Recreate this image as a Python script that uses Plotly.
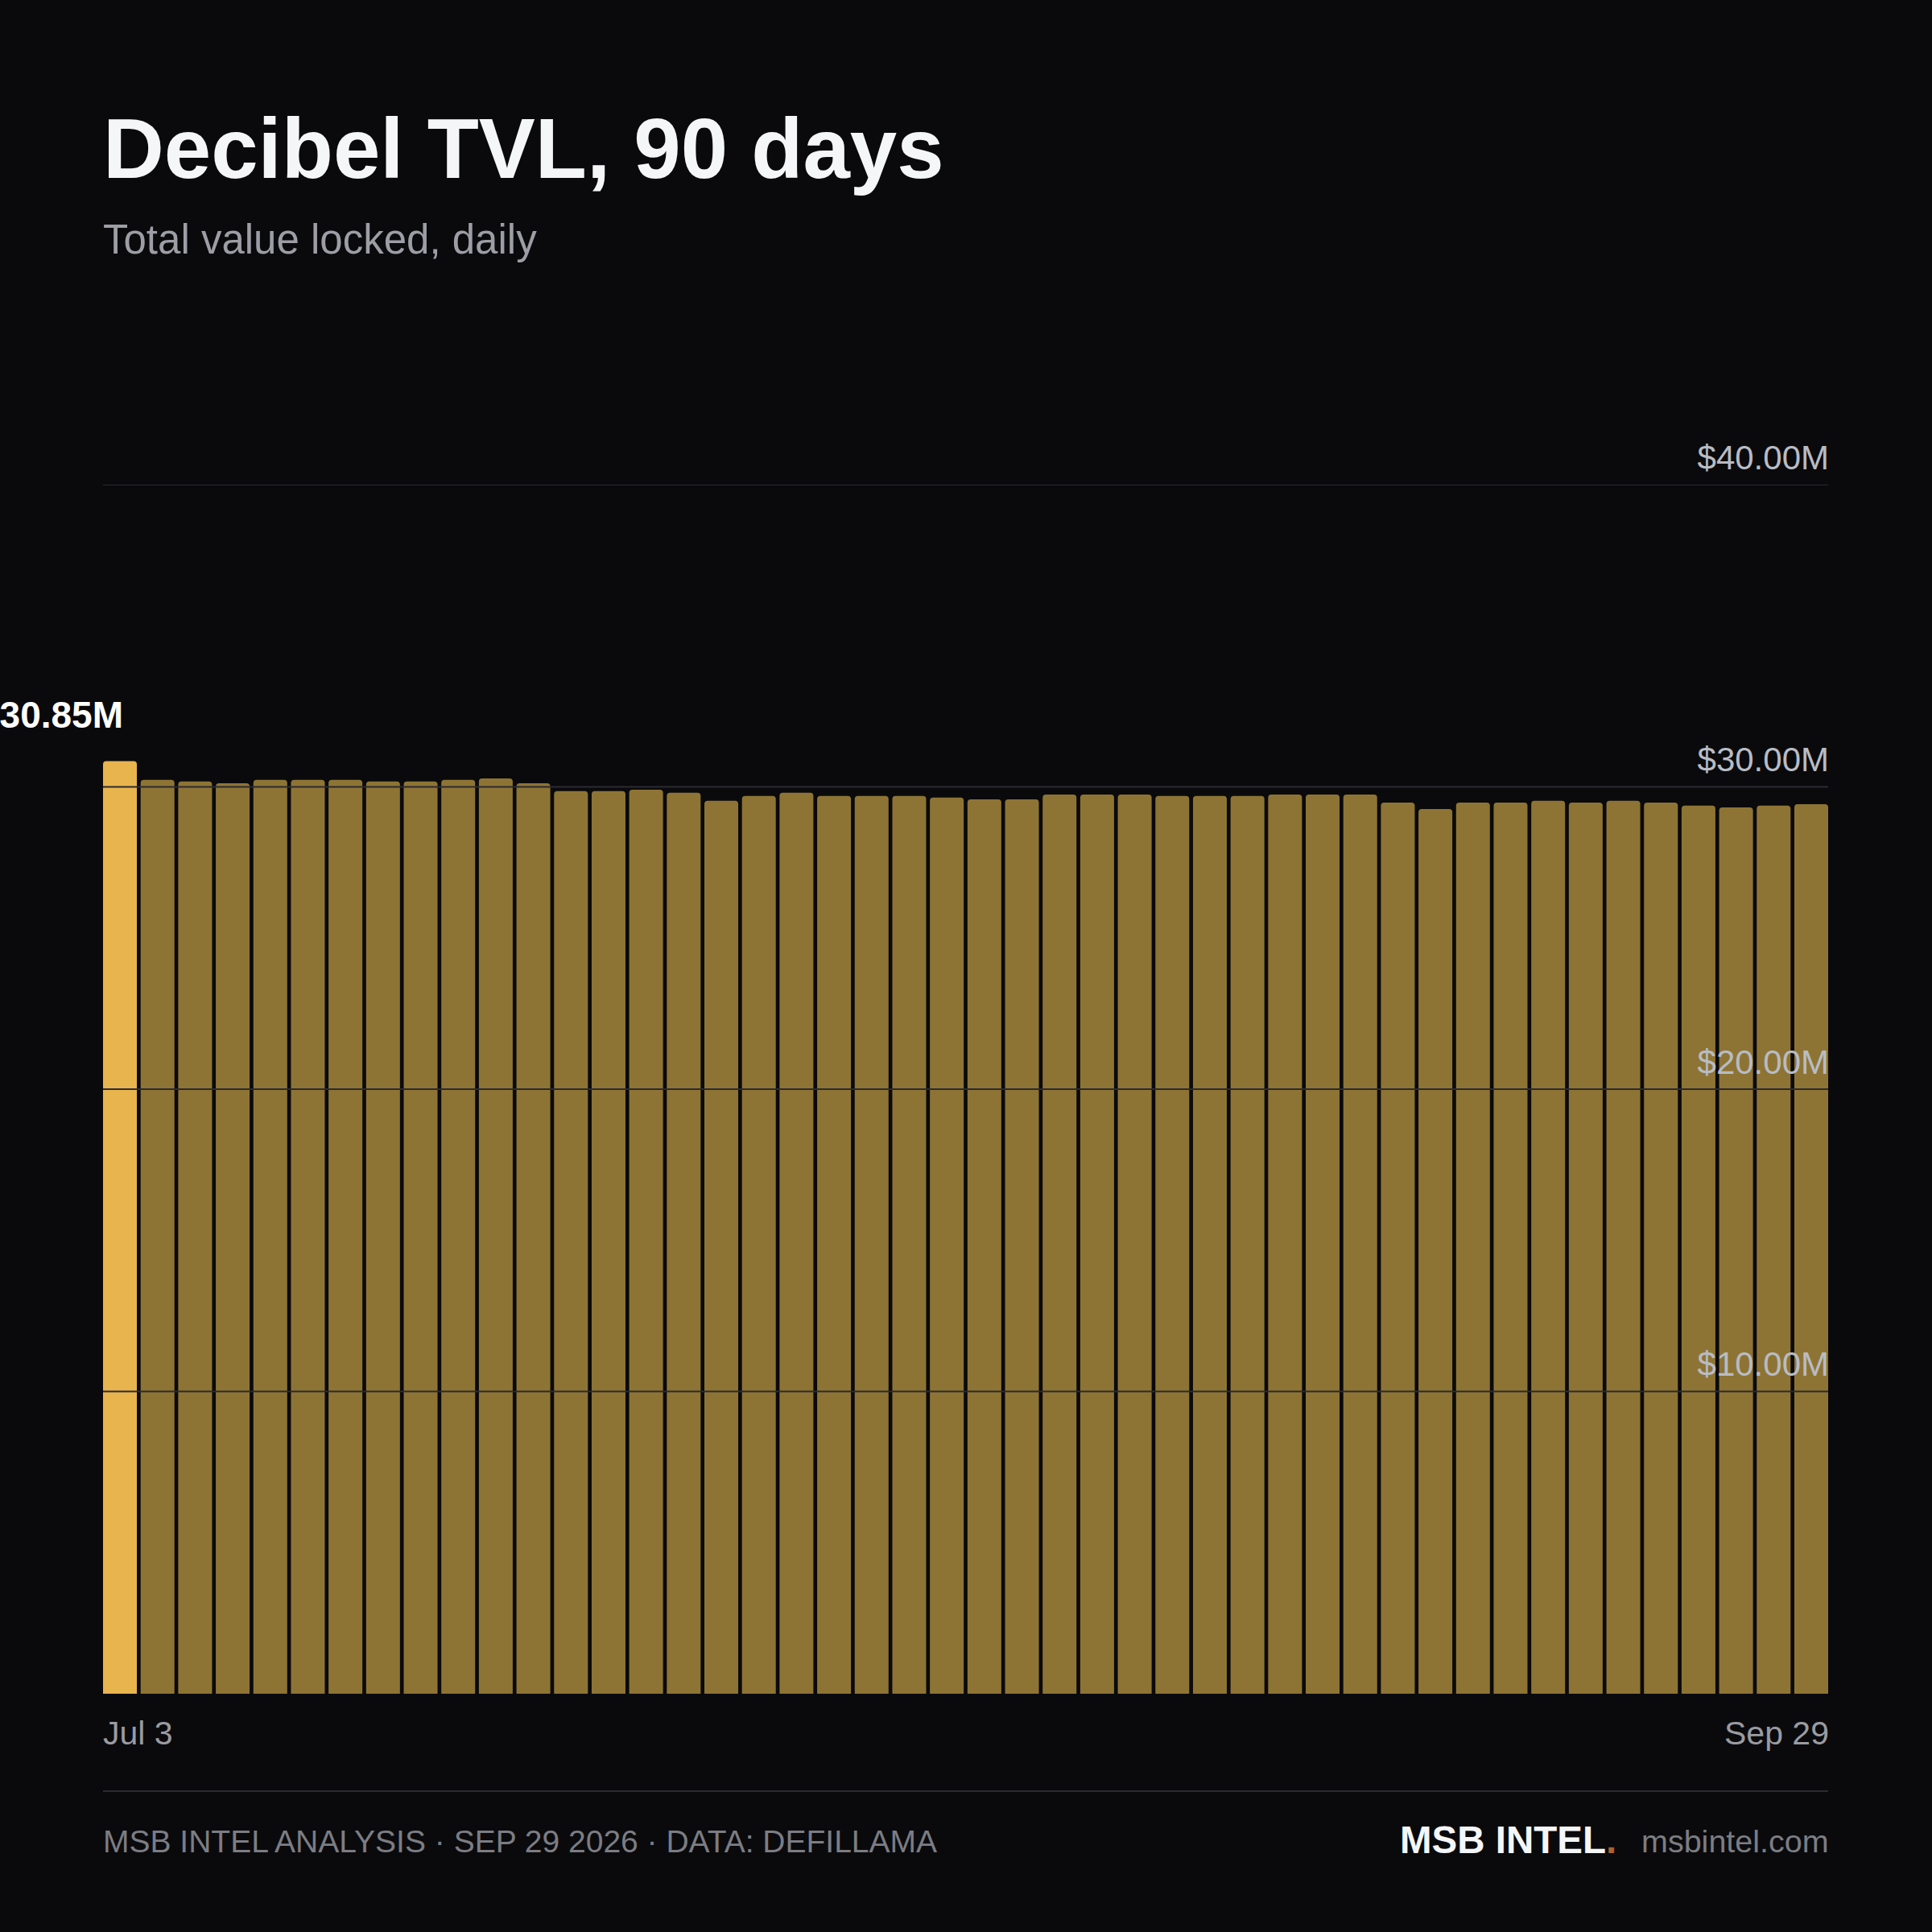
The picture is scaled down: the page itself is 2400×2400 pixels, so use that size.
import plotly.graph_objects as go

# daily TVL, millions of USD (oldest first)
tvl_musd = [
    30.85, 30.23, 30.18, 30.12, 30.23, 30.23, 30.23, 30.18, 30.18, 30.23,
    30.28, 30.12, 29.86, 29.86, 29.91, 29.81, 29.54, 29.70, 29.81, 29.70,
    29.70, 29.70, 29.65, 29.59, 29.59, 29.75, 29.75, 29.75, 29.70, 29.70,
    29.70, 29.75, 29.75, 29.75, 29.48, 29.27, 29.48, 29.48, 29.54, 29.48,
    29.54, 29.48, 29.38, 29.32, 29.38, 29.43,
]
first_label = "Jul 3"
last_label = "Sep 29"
y_ticks = [10, 20, 30, 40]
highlight_index = 0

BG = "#0a0a0c"
GOLD = "#e8b44e"
GOLD_DIM = "#8e7434"
GRID = "#2a2a31"
FONT = "Liberation Sans, Arial, sans-serif"

W = H = 2400
TOP = 602      # pixel row of the 40M line
BOTTOM = 2104  # pixel row of the zero baseline
LEFT = 128
RIGHT = 129


def py(row):
    # pixel row -> paper y
    return (BOTTOM - row) / (BOTTOM - TOP)


n = len(tvl_musd)
colors = [GOLD if i == highlight_index else GOLD_DIM for i in range(n)]
gap = 0.1

fig = go.Figure()
fig.add_trace(go.Bar(
    x=list(range(n)),
    y=tvl_musd,
    marker=dict(color=colors, line=dict(width=0)),
    hoverinfo="skip",
))

shapes = []
for v in y_ticks:
    shapes.append(dict(type="line", xref="paper", x0=0, x1=1, yref="y", y0=v, y1=v,
                       line=dict(color=GRID, width=2), layer="above"))
# footer divider
shapes.append(dict(type="line", xref="paper", x0=0, x1=1, yref="paper",
                   y0=py(2225), y1=py(2225), line=dict(color=GRID, width=2)))

annotations = [
    dict(text="<b>Decibel TVL, 90 days</b>", xref="paper", yref="paper", x=0, y=py(184),
         xanchor="left", yanchor="middle", xshift=-2, showarrow=False,
         font=dict(family=FONT, size=105, color="#f5f6f8")),
    dict(text="Total value locked, daily", xref="paper", yref="paper", x=0, y=py(298),
         xanchor="left", yanchor="middle", xshift=-2, showarrow=False,
         font=dict(family=FONT, size=51, color="#9d9ea5")),
    # value call-out on the highlighted bar
    dict(text="<b>$%.2fM</b>" % tvl_musd[highlight_index], xref="x", yref="y",
         x=highlight_index, y=tvl_musd[highlight_index], xanchor="right", yanchor="bottom",
         xshift=6, yshift=30, showarrow=False,
         font=dict(family=FONT, size=46, color="#ffffff")),
    dict(text=first_label, xref="paper", yref="paper", x=0, y=py(2153),
         xanchor="left", yanchor="middle", xshift=-2, showarrow=False,
         font=dict(family=FONT, size=41, color="#9a9ba1")),
    dict(text=last_label, xref="paper", yref="paper", x=1, y=py(2153),
         xanchor="right", yanchor="middle", xshift=3, showarrow=False,
         font=dict(family=FONT, size=41, color="#9a9ba1")),
    dict(text="MSB INTEL ANALYSIS · SEP 29 2026 · DATA: DEFILLAMA", xref="paper", yref="paper",
         x=0, y=py(2287), xanchor="left", yanchor="middle", xshift=-2, showarrow=False,
         font=dict(family=FONT, size=39, color="#7c7d84")),
    dict(text="<b>MSB INTEL</b><span style='color:#b0602e'><b>.</b></span>", xref="paper",
         yref="paper", x=1, y=py(2285), xanchor="right", yanchor="middle", xshift=-261,
         showarrow=False, font=dict(family=FONT, size=47.5, color="#f5f6f8")),
    dict(text="msbintel.com", xref="paper", yref="paper", x=1, y=py(2287),
         xanchor="right", yanchor="middle", xshift=3, showarrow=False,
         font=dict(family=FONT, size=39.5, color="#7c7d84")),
]

fig.update_layout(
    width=W, height=H,
    paper_bgcolor=BG, plot_bgcolor=BG,
    margin=dict(l=LEFT, r=RIGHT, t=TOP, b=H - BOTTOM, pad=0),
    bargap=gap, barcornerradius=4,
    showlegend=False,
    shapes=shapes,
    annotations=annotations,
    xaxis=dict(range=[-0.5 + gap / 2, n - 0.5 - gap / 2], showticklabels=False,
               showgrid=False, zeroline=False, showline=False, ticks=""),
    yaxis=dict(range=[0, 40], side="right", tickvals=y_ticks,
               ticktext=["$%.2fM" % v for v in y_ticks], ticks="", ticklen=0,
               ticklabelposition="inside", ticklabelshift=-34, ticklabelstandoff=-4,
               ticklabeloverflow="allow",
               layer="above traces", showgrid=False, zeroline=False, showline=False,
               tickfont=dict(family=FONT, size=42, color="#b8bcc4")),
)

fig.write_html("out.html", config={"displayModeBar": False},
               post_script="document.body.style.margin='0';")
